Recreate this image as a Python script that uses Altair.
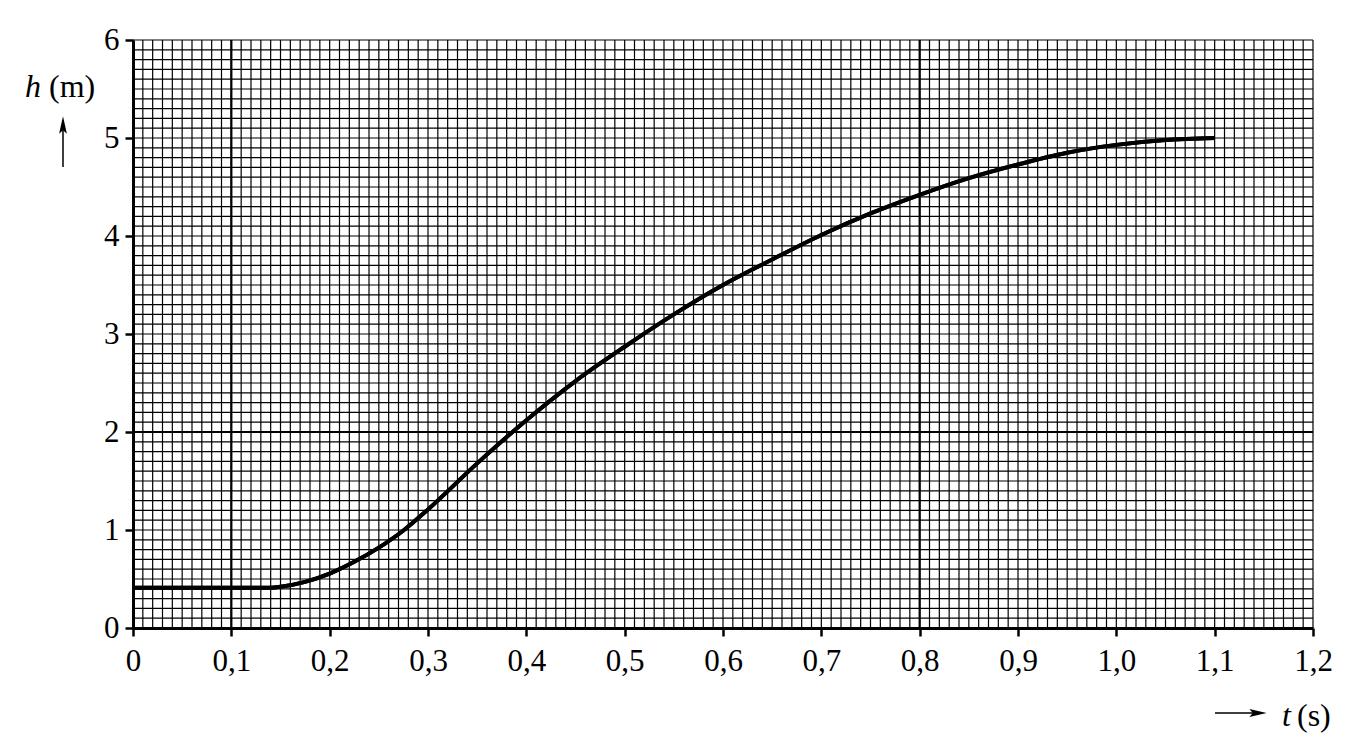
import altair as alt
import pandas as pd

# curve data
t_vals = [0.0, 0.05, 0.10, 0.14, 0.15, 0.175, 0.20, 0.225, 0.25, 0.275, 0.30, 0.35, 0.40,
          0.45, 0.50, 0.55, 0.60, 0.65, 0.70, 0.75, 0.80, 0.85, 0.90, 0.95, 1.00, 1.05, 1.10]
h_vals = [0.41, 0.41, 0.41, 0.41, 0.42, 0.47, 0.555, 0.675, 0.82, 0.995, 1.21, 1.68, 2.12,
          2.52, 2.87, 3.20, 3.50, 3.76, 4.01, 4.23, 4.42, 4.59, 4.73, 4.85, 4.93, 4.98, 5.00]

x_ticks = [0.0, 0.1, 0.2, 0.3, 0.4, 0.5, 0.6, 0.7, 0.8, 0.9, 1.0, 1.1, 1.2]
y_ticks = [0, 1, 2, 3, 4, 5, 6]
bold_x = [0.1, 0.8]
bold_y = [2]

grid_x = [round(i / 100, 2) for i in range(121)]
grid_y = [round(i / 10, 1) for i in range(61)]

FONT = "Liberation Serif"
FS = 31

xs = alt.Scale(domain=[0, 1.2], nice=False, zero=False)
ys = alt.Scale(domain=[0, 6], nice=False, zero=False)

label_x = "datum.value == 0 ? '0' : replace(format(datum.value, '.1f'), '.', ',')"
x_axis = alt.Axis(values=x_ticks, title=None, grid=False,
                  labelExpr=label_x, domainWidth=3, domainColor="black",
                  tickColor="black", tickWidth=2.5, tickSize=8,
                  labelPadding=10, labelFont=FONT, labelFontSize=FS,
                  labelColor="black", labelFlush=False)
y_axis = alt.Axis(values=y_ticks, title=None, grid=False,
                  format="d", domainWidth=3, domainColor="black",
                  tickColor="black", tickWidth=2.5, tickSize=8,
                  labelPadding=6, labelFont=FONT, labelFontSize=FS,
                  labelColor="black", labelFlush=False)

curve_df = pd.DataFrame({"t": t_vals, "h": h_vals})

gx = alt.Chart(pd.DataFrame({"t": grid_x})).mark_rule(color="black", strokeWidth=1.2).encode(
    x=alt.X("t:Q", scale=xs, axis=x_axis))
gy = alt.Chart(pd.DataFrame({"h": grid_y})).mark_rule(color="black", strokeWidth=1.2).encode(
    y=alt.Y("h:Q", scale=ys, axis=y_axis))
bx = alt.Chart(pd.DataFrame({"t": bold_x})).mark_rule(color="black", strokeWidth=2.2).encode(
    x=alt.X("t:Q", scale=xs, axis=x_axis))
by = alt.Chart(pd.DataFrame({"h": bold_y})).mark_rule(color="black", strokeWidth=2.2).encode(
    y=alt.Y("h:Q", scale=ys, axis=y_axis))

curve = alt.Chart(curve_df).mark_line(color="black", strokeWidth=4, interpolate="monotone").encode(
    x=alt.X("t:Q", scale=xs, axis=x_axis),
    y=alt.Y("h:Q", scale=ys, axis=y_axis),
)

def txt(s, x, y, italic=False, align="left"):
    return alt.Chart(pd.DataFrame({"s": [s]})).mark_text(
        font=FONT, fontSize=32, fontStyle="italic" if italic else "normal",
        align=align, baseline="alphabetic", color="black").encode(
        text="s:N", x=alt.value(x), y=alt.value(y))

h_lbl = txt("h", -108, 57, italic=True)
m_lbl = txt("(m)", -84, 57)
t_lbl = txt("t", 1149, 686, italic=True)
s_lbl = txt("(s)", 1164, 686)

up_shaft = alt.Chart(pd.DataFrame({"a": [0]})).mark_rule(color="black", strokeWidth=1.5).encode(
    x=alt.value(-70), y=alt.value(88), y2=alt.value(127))
up_head = alt.Chart(pd.DataFrame({"a": [0]})).mark_point(
    shape="M0,-1L0.45,1L0,0.6L-0.45,1Z", filled=True, color="black", size=300, opacity=1).encode(
    x=alt.value(-70), y=alt.value(85))
right_shaft = alt.Chart(pd.DataFrame({"a": [0]})).mark_rule(color="black", strokeWidth=1.5).encode(
    x=alt.value(1082), x2=alt.value(1124), y=alt.value(673))
right_head = alt.Chart(pd.DataFrame({"a": [0]})).mark_point(
    shape="M1,0L-1,0.45L-0.6,0L-1,-0.45Z", filled=True, color="black", size=300, opacity=1).encode(
    x=alt.value(1125), y=alt.value(673))

chart = alt.layer(curve, gx, gy, bx, by, curve, h_lbl, m_lbl, t_lbl, s_lbl,
                  up_shaft, up_head, right_shaft, right_head).properties(
    width=1180, height=588,
    autosize=alt.AutoSizeParams(type="none"),
    padding={"left": 125, "top": 32, "right": 41, "bottom": 118},
    background="white",
).configure_view(stroke=None)

chart.save("out.html", embed_options={"renderer": "svg", "actions": False})
